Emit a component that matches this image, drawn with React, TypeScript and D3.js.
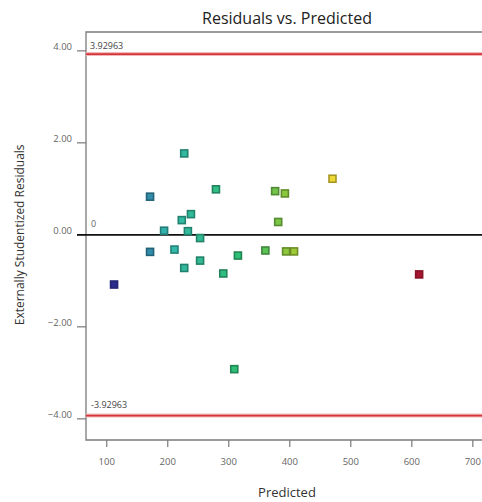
import React, { useEffect, useRef } from "react";
import * as d3 from "d3";

// predicted values and externally studentized residuals
const predicted = [227, 171, 279, 376, 392, 470, 238, 223, 381, 194, 233, 253, 171, 211, 253, 227, 291, 315, 360, 394, 407, 112, 612, 309];
const residuals = [1.77, 0.83, 0.99, 0.95, 0.9, 1.22, 0.45, 0.32, 0.28, 0.09, 0.08, -0.07, -0.37, -0.32, -0.56, -0.72, -0.84, -0.45, -0.34, -0.36, -0.36, -1.08, -0.86, -2.92];

const limit = 3.92963;
const xTicks = [100, 200, 300, 400, 500, 600, 700];
const yTicks = [4, 2, 0, -2, -4];

// colour ramp along the predicted value
const colorStops = [112, 200, 330, 400, 470, 612];
const colorRange = ["#2b2d8c", "#2a9a90", "#27a05c", "#7da82e", "#c6b52c", "#a3162e"];

const App = () => {
  const ref = useRef<SVGSVGElement>(null);

  useEffect(() => {
    const svg = d3.select(ref.current);
    svg.selectAll("*").remove();

    const width = 482;
    const height = 502;
    const margin = { top: 32, right: -14, bottom: 62, left: 86 };
    const font = "'Open Sans', 'DejaVu Sans', sans-serif";

    const x = d3.scaleLinear().domain([66, 738]).range([margin.left, width - margin.right]);
    const y = d3.scaleLinear().domain([-4.46, 4.41]).range([height - margin.bottom, margin.top]);
    const color = d3.scaleLinear<string>().domain(colorStops).range(colorRange).clamp(true);

    const x0 = margin.left;
    const x1 = width - margin.right;
    const y0 = margin.top;
    const y1 = height - margin.bottom;

    svg.append("rect").attr("width", width).attr("height", height).attr("fill", "#fff");

    // frame
    svg.append("path")
      .attr("d", `M${x1},${y0}H${x0}V${y1}H${x1}`)
      .attr("fill", "none")
      .attr("stroke", "#7a7a7a")
      .attr("stroke-width", 1.3);

    // title
    svg.append("text")
      .attr("x", 287)
      .attr("y", 24)
      .attr("text-anchor", "middle")
      .attr("font-family", font)
      .attr("font-size", 16)
      .attr("fill", "#222")
      .text("Residuals vs. Predicted");

    // y ticks
    yTicks.forEach(t => {
      svg.append("line")
        .attr("x1", x0 - 9).attr("x2", x0)
        .attr("y1", y(t)).attr("y2", y(t))
        .attr("stroke", "#7a7a7a").attr("stroke-width", 1.2);
      svg.append("text")
        .attr("x", x0 - 14)
        .attr("y", y(t) - 1)
        .attr("text-anchor", "end")
        .attr("font-family", font)
        .attr("font-size", 9.5)
        .attr("fill", "#666")
        .text(d3.format(".2f")(t));
    });

    // x ticks
    xTicks.forEach(t => {
      svg.append("line")
        .attr("x1", x(t)).attr("x2", x(t))
        .attr("y1", y1).attr("y2", y1 + 7)
        .attr("stroke", "#7a7a7a").attr("stroke-width", 1.2);
      svg.append("text")
        .attr("x", Math.min(x(t), width - 9))
        .attr("y", y1 + 25)
        .attr("text-anchor", "middle")
        .attr("font-family", font)
        .attr("font-size", 9.5)
        .attr("fill", "#666")
        .text(t);
    });

    // axis titles
    svg.append("text")
      .attr("x", 287)
      .attr("y", 497)
      .attr("text-anchor", "middle")
      .attr("font-family", font)
      .attr("font-size", 13)
      .attr("fill", "#333")
      .text("Predicted");

    svg.append("text")
      .attr("transform", `translate(24,${y(0)}) rotate(-90)`)
      .attr("text-anchor", "middle")
      .attr("font-family", font)
      .attr("font-size", 12)
      .attr("fill", "#333")
      .text("Externally Studentized Residuals");

    // limit lines
    [limit, -limit].forEach(v => {
      svg.append("line")
        .attr("x1", x0).attr("x2", x1)
        .attr("y1", y(v)).attr("y2", y(v))
        .attr("stroke", "#f2b8b8").attr("stroke-width", 4);
      svg.append("line")
        .attr("x1", x0).attr("x2", x1)
        .attr("y1", y(v)).attr("y2", y(v))
        .attr("stroke", "#d4343a").attr("stroke-width", 1.8);
    });

    svg.append("text")
      .attr("x", x0 + 4).attr("y", y(limit) - 5)
      .attr("font-family", font).attr("font-size", 9).attr("fill", "#444")
      .text("3.92963");
    svg.append("text")
      .attr("x", x0 + 5).attr("y", y(-limit) - 8)
      .attr("font-family", font).attr("font-size", 9).attr("fill", "#444")
      .text("-3.92963");

    // zero line
    svg.append("line")
      .attr("x1", x0 - 9).attr("x2", x1)
      .attr("y1", y(0)).attr("y2", y(0))
      .attr("stroke", "#111").attr("stroke-width", 1.8);
    svg.append("text")
      .attr("x", x0 + 5).attr("y", y(0) - 8)
      .attr("font-family", font).attr("font-size", 9).attr("fill", "#666")
      .text("0");

    // points
    const s = 7;
    predicted.forEach((p, i) => {
      const c = d3.color(color(p))!;
      svg.append("rect")
        .attr("x", x(p) - s / 2)
        .attr("y", y(residuals[i]) - s / 2)
        .attr("width", s)
        .attr("height", s)
        .attr("fill", p < 130 || p > 550 ? c.formatHex() : c.brighter(0.5).formatHex())
        .attr("stroke", c.darker(0.5).formatHex())
        .attr("stroke-width", 1.6);
    });
  }, []);

  return (
    <svg
      ref={ref}
      width={482}
      height={502}
      style={{ position: "absolute", left: 0, top: 0, display: "block" }}
    />
  );
};

export default App;
